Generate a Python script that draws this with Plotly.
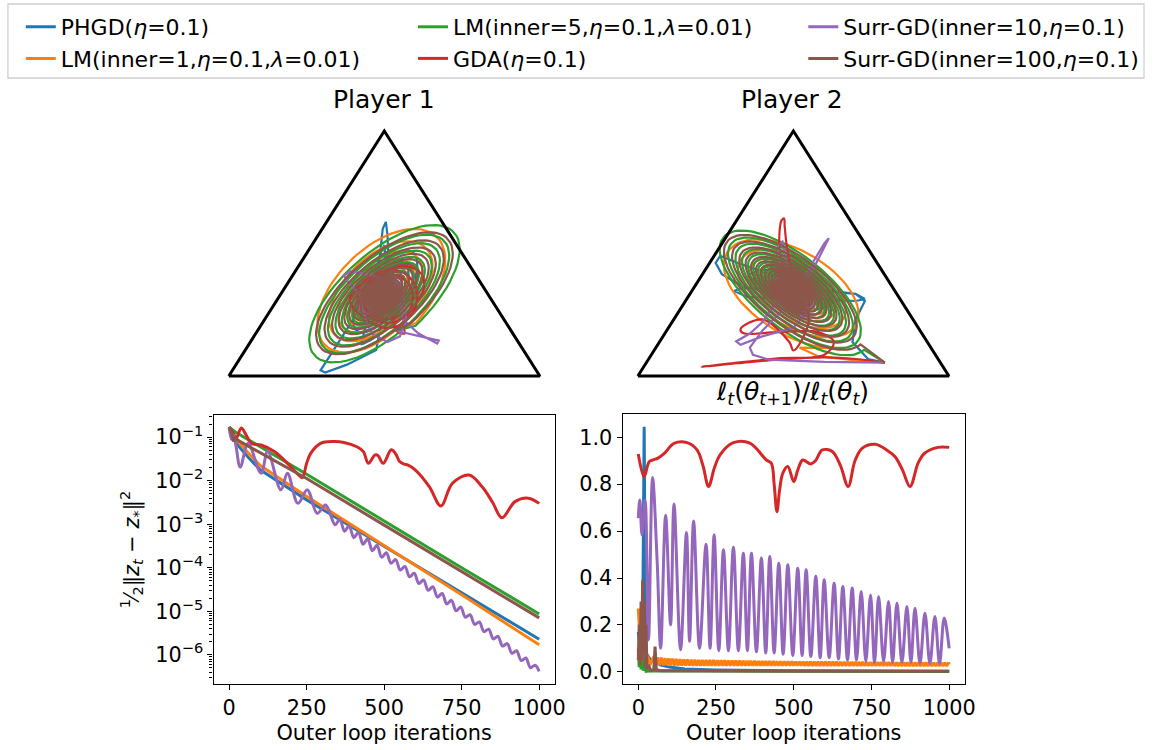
import numpy as np
import plotly.graph_objects as go

W, H = 1156, 750
FONT = "DejaVu Sans"
COLORS = {"PHGD": "#1f77b4", "LM1": "#ff7f0e", "LM5": "#2ca02c",
          "GDA": "#d62728", "S10": "#9467bd", "S100": "#8c564b"}
NAMES = {"PHGD": "PHGD(<i>η</i>=0.1)",
         "LM1": "LM(inner=1,<i>η</i>=0.1,<i>λ</i>=0.01)",
         "LM5": "LM(inner=5,<i>η</i>=0.1,<i>λ</i>=0.01)",
         "GDA": "GDA(<i>η</i>=0.1)",
         "S10": "Surr-GD(inner=10,<i>η</i>=0.1)",
         "S100": "Surr-GD(inner=100,<i>η</i>=0.1)"}
ORDER = ["PHGD", "LM1", "LM5", "GDA", "S10", "S100"]
LEGEND_OF = {"PHGD": "legend", "LM1": "legend", "LM5": "legend2",
             "GDA": "legend2", "S10": "legend3", "S100": "legend3"}

# ---------------- simplex (triangle) data, cartesian coords in the 2-simplex ----------------
tri_x = [0.0, 1.0, 0.5, 0.0]
tri_y = [0.0, 0.0, 0.866, 0.0]

# Player 1 : spiral ring sizes (semi-major per turn)
p1_green_rings = [0.335, 0.29, 0.25, 0.215, 0.185, 0.16, 0.138, 0.119, 0.102, 0.088, 0.076, 0.065,
                  0.056, 0.048, 0.041, 0.035, 0.03, 0.025, 0.021, 0.017, 0.014, 0.011, 0.008, 0.006,
                  0.004, 0.002]
p1_brown_rings = [0.30, 0.262, 0.228, 0.198, 0.172, 0.15, 0.13, 0.113, 0.098, 0.085, 0.074, 0.064,
                  0.055, 0.047, 0.04, 0.034, 0.029, 0.024, 0.02, 0.016, 0.013, 0.01, 0.008, 0.006,
                  0.004, 0.002]
p1_orange_rings = [0.29, 0.235, 0.19, 0.155, 0.126, 0.102, 0.083, 0.067, 0.054, 0.044, 0.035,
                   0.028, 0.022, 0.017, 0.013, 0.01, 0.007, 0.005, 0.003]
p1_blue_rings = [0.2, 0.15, 0.11, 0.08, 0.06, 0.045, 0.033, 0.024, 0.017, 0.012, 0.008, 0.005, 0.003]
p1_purple_rings = [0.1, 0.07, 0.048, 0.032, 0.02, 0.012, 0.006, 0.003]

p1_start = (0.537, 0.16)
p1_blue_path_x = [0.537, 0.52, 0.515, 0.51, 0.505, 0.495, 0.485, 0.46, 0.40, 0.33, 0.295, 0.31,
                  0.38, 0.474, 0.50, 0.505, 0.50, 0.49, 0.475, 0.47]
p1_blue_path_y = [0.16, 0.25, 0.38, 0.50, 0.545, 0.52, 0.42, 0.33, 0.20, 0.08, 0.02, 0.012,
                  0.04, 0.092, 0.25, 0.40, 0.463, 0.44, 0.36, 0.30]
p1_purple_path_x = [0.537, 0.62, 0.675, 0.67, 0.61, 0.56, 0.55, 0.52, 0.45, 0.39, 0.37, 0.385,
                    0.42, 0.44, 0.46, 0.51, 0.55, 0.57, 0.56, 0.52]
p1_purple_path_y = [0.16, 0.14, 0.125, 0.115, 0.15, 0.2, 0.26, 0.33, 0.36, 0.37, 0.355, 0.33,
                    0.29, 0.2, 0.15, 0.12, 0.14, 0.2, 0.3, 0.36]
p1_red_path_x = [0.537, 0.565, 0.56, 0.59, 0.625, 0.62, 0.56, 0.47, 0.40, 0.39, 0.43, 0.5, 0.55,
                 0.6, 0.6, 0.55, 0.47, 0.42, 0.42, 0.47, 0.53, 0.58, 0.59, 0.55, 0.48, 0.43,
                 0.44, 0.5, 0.56]
p1_red_path_y = [0.16, 0.15, 0.19, 0.235, 0.30, 0.36, 0.39, 0.35, 0.30, 0.26, 0.21, 0.17, 0.18,
                 0.24, 0.32, 0.37, 0.36, 0.31, 0.25, 0.2, 0.19, 0.23, 0.30, 0.35, 0.35, 0.30,
                 0.24, 0.2, 0.22]

# Player 2
p2_start = (0.794, 0.047)
p2_green_rings = [0.31, 0.275, 0.243, 0.215, 0.19, 0.167, 0.147, 0.129, 0.113, 0.099, 0.086,
                  0.075, 0.065, 0.056, 0.048, 0.041, 0.035, 0.03, 0.025, 0.021, 0.017, 0.014,
                  0.011, 0.008, 0.006, 0.004, 0.002]
p2_brown_rings = [0.29, 0.255, 0.225, 0.198, 0.175, 0.154, 0.135, 0.118, 0.103, 0.09, 0.078,
                  0.068, 0.059, 0.051, 0.044, 0.038, 0.032, 0.027, 0.023, 0.019, 0.016, 0.013,
                  0.01, 0.008, 0.006, 0.004, 0.002]
p2_orange_rings = [0.28, 0.225, 0.18, 0.145, 0.117, 0.094, 0.075, 0.06, 0.048, 0.038, 0.03,
                   0.024, 0.018, 0.014, 0.01, 0.007, 0.004, 0.002]
p2_blue_rings = [0.15, 0.11, 0.08, 0.058, 0.042, 0.03, 0.021, 0.015, 0.01, 0.006, 0.003]
p2_purple_rings = [0.09, 0.06, 0.04, 0.026, 0.016, 0.009, 0.004]

p2_orange_path_x = [0.794, 0.70, 0.58, 0.52]
p2_orange_path_y = [0.047, 0.055, 0.07, 0.10]
p2_blue_path_x = [0.794, 0.74, 0.69, 0.70, 0.73, 0.70, 0.60, 0.45, 0.32, 0.265, 0.25, 0.27, 0.33,
                  0.45, 0.60, 0.70, 0.73, 0.70, 0.60, 0.45, 0.33, 0.31, 0.35, 0.50]
p2_blue_path_y = [0.047, 0.06, 0.12, 0.20, 0.265, 0.29, 0.305, 0.35, 0.40, 0.425, 0.40, 0.36,
                  0.32, 0.29, 0.27, 0.265, 0.272, 0.29, 0.30, 0.31, 0.31, 0.30, 0.28, 0.27]
p2_red_path_x = [0.794, 0.70, 0.603, 0.45, 0.32, 0.205, 0.30, 0.45, 0.60, 0.63, 0.58, 0.45,
                 0.34, 0.33, 0.40, 0.487, 0.50, 0.55, 0.50, 0.48, 0.472, 0.47, 0.462, 0.455,
                 0.46, 0.49, 0.53, 0.55, 0.52, 0.48, 0.46, 0.50, 0.53, 0.50]
p2_red_path_y = [0.047, 0.06, 0.066, 0.058, 0.045, 0.033, 0.045, 0.062, 0.075, 0.12, 0.155,
                 0.155, 0.151, 0.165, 0.2, 0.12, 0.09, 0.2, 0.35, 0.45, 0.53, 0.557, 0.55, 0.50,
                 0.40, 0.30, 0.22, 0.25, 0.33, 0.35, 0.30, 0.26, 0.29, 0.32]
p2_purple_path_x = [0.794, 0.60, 0.42, 0.37, 0.36, 0.40, 0.48, 0.56, 0.614, 0.60, 0.54, 0.47,
                    0.43, 0.40, 0.36, 0.316, 0.33, 0.40, 0.50, 0.54, 0.52, 0.48, 0.465, 0.45,
                    0.46, 0.50]
p2_purple_path_y = [0.047, 0.05, 0.058, 0.075, 0.10, 0.16, 0.25, 0.37, 0.487, 0.47, 0.36, 0.28,
                    0.24, 0.19, 0.15, 0.122, 0.11, 0.14, 0.17, 0.22, 0.30, 0.40, 0.475, 0.46,
                    0.38, 0.30]

# ---------------- distance plot (log10 of 1/2||z_t - z*||^2) ----------------
phgd_dist_x = [0, 15, 30, 60, 100, 250, 500, 750, 1000]
phgd_dist_log10 = [-0.77, -1.0, -1.2, -1.45, -1.75, -2.44, -3.5, -4.57, -5.64]
lm1_dist_x = [0, 15, 30, 60, 100, 250, 500, 750, 1000]
lm1_dist_log10 = [-0.77, -0.95, -1.1, -1.35, -1.65, -2.36, -3.48, -4.62, -5.77]
lm5_dist_x = [0, 20, 250, 500, 750, 1000]
lm5_dist_log10 = [-0.77, -0.88, -1.85, -2.93, -4.0, -5.06]
gda_dist_x = [0, 12, 23, 39, 55, 71, 103, 146, 188, 225, 236, 250, 263, 295, 337, 370, 412, 433,
              449, 470, 480, 497, 523, 537, 550, 565, 577, 600, 646, 683, 720, 774, 816, 850,
              880, 922, 965, 1000]
gda_dist_log10 = [-0.77, -0.9, -1.02, -0.79, -0.95, -1.14, -1.18, -1.33, -1.6, -1.87, -1.93,
                  -1.6, -1.37, -1.14, -1.1, -1.12, -1.22, -1.33, -1.6, -1.41, -1.42, -1.6, -1.29,
                  -1.38, -1.56, -1.62, -1.64, -1.75, -2.14, -2.58, -2.06, -1.87, -2.14, -2.5,
                  -2.85, -2.48, -2.4, -2.52]
s10_dist_x = [0, 8, 14, 22, 36, 61, 103, 124, 167, 188, 222, 252, 284, 311, 342, 357, 372, 387,
              402, 417, 432, 447, 462, 477, 492, 507, 522, 537, 552, 567, 582, 597, 612, 627,
              642, 657, 672, 687, 702, 717, 732, 747, 762, 777, 792, 807, 822, 837, 852, 867,
              882, 897, 912, 927, 942, 957, 972, 987, 1000]
s10_dist_log10 = [-0.77, -1.05, -0.95, -1.2, -1.69, -1.14, -1.83, -1.33, -2.21, -1.83, -2.52,
                  -2.21, -2.75, -2.56, -3.01, -2.885, -3.16, -3.035, -3.31, -3.185, -3.46,
                  -3.335, -3.61, -3.485, -3.76, -3.656, -3.894, -3.812, -4.05, -3.968, -4.206,
                  -4.124, -4.362, -4.28, -4.518, -4.436, -4.674, -4.592, -4.83, -4.748, -4.986,
                  -4.904, -5.136, -5.079, -5.302, -5.245, -5.468, -5.41, -5.633, -5.576, -5.799,
                  -5.742, -5.964, -5.907, -6.13, -6.073, -6.296, -6.238, -6.38]
s100_dist_x = [0, 8, 14, 20, 30, 250, 500, 750, 1000]
s100_dist_log10 = [-0.77, -0.9, -1.1, -1.02, -1.08, -1.95, -3.02, -4.08, -5.15]

# ---------------- loss ratio plot ----------------
phgd_ratio_x = [0, 5, 10, 14, 17, 19, 21, 24, 30, 40, 55, 70, 100, 150, 250, 500, 1000]
phgd_ratio_y = [0.17, 0.12, 0.05, 0.15, 0.6, 1.045, 0.6, 0.08, 0.07, 0.05, 0.045, 0.03, 0.02,
                0.012, 0.008, 0.004, 0.002]
lm1_ratio_head_x = [0, 3, 6, 9, 12, 15, 20, 25, 30, 38]
lm1_ratio_head_y = [0.27, 0.2, 0.27, 0.05, 0.25, 0.02, 0.1, 0.03, 0.07, 0.03]
lm1_ratio_peaks = [0.066, 0.062, 0.060, 0.058, 0.057, 0.056, 0.055, 0.054, 0.053, 0.053,
                   0.052, 0.052, 0.051, 0.051, 0.050, 0.050, 0.050, 0.049, 0.049, 0.049,
                   0.048, 0.048, 0.048, 0.048, 0.047, 0.047, 0.047, 0.047, 0.046, 0.046,
                   0.046, 0.046, 0.046, 0.045, 0.045, 0.045, 0.045, 0.045, 0.044, 0.044,
                   0.044, 0.044, 0.044, 0.044, 0.043, 0.043, 0.043, 0.043, 0.043, 0.043,
                   0.042, 0.042, 0.042, 0.042, 0.042, 0.042, 0.042, 0.041, 0.041, 0.041,
                   0.041, 0.041, 0.041, 0.041, 0.041, 0.040, 0.040, 0.040, 0.040, 0.040,
                   0.040, 0.040, 0.040, 0.040, 0.040, 0.039, 0.039, 0.039, 0.039, 0.039]
lm1_ratio_troughs = [0.028, 0.028, 0.028, 0.028, 0.027, 0.027, 0.027, 0.027, 0.027, 0.027,
                     0.026, 0.026, 0.026, 0.026, 0.026, 0.026, 0.026, 0.026, 0.026, 0.026,
                     0.026, 0.026, 0.026, 0.026, 0.026, 0.026, 0.026, 0.026, 0.026, 0.026,
                     0.026, 0.026, 0.026, 0.026, 0.026, 0.026, 0.026, 0.026, 0.026, 0.026,
                     0.025, 0.025, 0.025, 0.025, 0.025, 0.025, 0.025, 0.025, 0.025, 0.025,
                     0.025, 0.025, 0.025, 0.025, 0.025, 0.025, 0.025, 0.025, 0.025, 0.025,
                     0.025, 0.025, 0.025, 0.025, 0.025, 0.025, 0.025, 0.025, 0.025, 0.025,
                     0.025, 0.025, 0.025, 0.025, 0.025, 0.025, 0.025, 0.025, 0.025]
lm1_ratio_osc_start, lm1_ratio_osc_step = 50, 6
lm1_ratio_end = (1000, 0.033)
lm5_ratio_x = [0, 3, 6, 9, 12, 16, 20, 25, 40, 1000]
lm5_ratio_y = [0.1, 0.02, 0.12, 0.01, 0.06, 0.005, 0.03, 0.002, 0.004, 0.001]
gda_ratio_x = [0, 19, 35, 50, 62, 83, 115, 157, 189, 208, 226, 245, 263, 306, 359, 412, 428, 437,
               446, 455, 465, 481, 500, 513, 529, 555, 570, 592, 624, 650, 675, 697, 720, 762,
               800, 826, 850, 874, 900, 921, 964, 1000]
gda_ratio_y = [0.929, 0.832, 0.896, 0.905, 0.91, 0.93, 0.974, 0.977, 0.946, 0.88, 0.79, 0.87,
               0.925, 0.977, 0.975, 0.903, 0.889, 0.8, 0.683, 0.78, 0.847, 0.875, 0.811, 0.86,
               0.903, 0.886, 0.9, 0.946, 0.939, 0.88, 0.79, 0.9, 0.953, 0.97, 0.945, 0.917,
               0.86, 0.79, 0.89, 0.932, 0.957, 0.957]
s10_ratio_x = [0, 5, 12, 22, 33, 46, 61, 72, 88, 104, 115, 136, 155, 165, 178, 197, 218, 231,
               244, 259, 274, 290, 306, 322, 338, 351, 364, 380, 396, 410, 423, 437, 452, 466,
               481, 497, 513, 527, 540, 555, 571, 585, 598, 614, 630, 644, 658, 673, 688, 702,
               717, 732, 747, 760, 773, 789, 805, 818, 832, 848, 864, 877, 890, 906, 922, 938,
               954, 969, 984, 1000]
s10_ratio_y = [0.655, 0.733, 0.584, 0.733, 0.136, 0.828, 0.463, 0.1, 0.668, 0.2, 0.716, 0.094,
               0.594, 0.13, 0.643, 0.1, 0.544, 0.1, 0.584, 0.09, 0.52, 0.09, 0.531, 0.09, 0.506,
               0.09, 0.506, 0.085, 0.485, 0.08, 0.492, 0.08, 0.463, 0.075, 0.456, 0.07, 0.442,
               0.07, 0.435, 0.065, 0.407, 0.06, 0.392, 0.06, 0.378, 0.055, 0.364, 0.05, 0.357,
               0.05, 0.342, 0.045, 0.328, 0.04, 0.321, 0.045, 0.30, 0.04, 0.293, 0.04, 0.278,
               0.04, 0.271, 0.035, 0.25, 0.035, 0.236, 0.035, 0.229, 0.1]
s100_ratio_x = [0, 3, 6, 9, 11, 14, 16, 19, 22, 25, 28, 33, 40, 50, 54, 58, 70, 1000]
s100_ratio_y = [0.05, 0.2, 0.03, 0.3, 0.05, 0.39, 0.08, 0.3, 0.02, 0.2, 0.01, 0.03, 0.005, 0.01,
                0.108, 0.01, 0.004, 0.002]

# x/y tick labels
dist_tick_exps = [-6, -5, -4, -3, -2, -1]
iter_ticks = [0, 250, 500, 750, 1000]
ratio_ticks = [0.0, 0.2, 0.4, 0.6, 0.8, 1.0]


def spiral(center, angle_deg, ratio, rings, phase_deg, direction=1, steps=72):
    th = np.radians(angle_deg)
    e1 = np.array([np.cos(th), np.sin(th)])
    e2 = np.array([-np.sin(th), np.cos(th)])
    xs, ys = [], []
    for k in range(len(rings) - 1):
        for j in range(steps):
            t = j / steps
            phi = np.radians(phase_deg) + direction * 2 * np.pi * (k + t)
            a = rings[k] + (rings[k + 1] - rings[k]) * t
            p = np.array(center) + a * np.cos(phi) * e1 + ratio * a * np.sin(phi) * e2
            xs.append(p[0]); ys.append(p[1])
    xs.append(center[0]); ys.append(center[1])
    return xs, ys


fig = go.Figure()

def add_line(x, y, key, xa, ya, width, shape="linear", legend=False):
    fig.add_trace(go.Scatter(
        x=x, y=y, mode="lines", name=NAMES[key], xaxis=xa, yaxis=ya,
        line=dict(color=COLORS[key], width=width, shape=shape),
        showlegend=legend, legend=LEGEND_OF[key], legendgroup=key,
        hoverinfo="skip"))

# ---- triangles ----
TRI_W = 2.2
# Player 1
bx, by = spiral((0.495, 0.288), 60, 0.4, p1_blue_rings, 200)
add_line(p1_blue_path_x + bx, p1_blue_path_y + by, "PHGD", "x", "y", TRI_W)
ox, oy = spiral((0.48, 0.29), 50, 0.55, p1_orange_rings, -90)
add_line([p1_start[0]] + ox, [p1_start[1]] + oy, "LM1", "x", "y", TRI_W)
gx, gy = spiral((0.492, 0.282), 46, 0.45, p1_green_rings, -90)
add_line([p1_start[0]] + gx, [p1_start[1]] + gy, "LM5", "x", "y", TRI_W)
add_line(p1_red_path_x, p1_red_path_y, "GDA", "x", "y", TRI_W, "spline")
px_, py_ = spiral((0.495, 0.29), 45, 0.45, p1_purple_rings, 90)
add_line(p1_purple_path_x + px_, p1_purple_path_y + py_, "S10", "x", "y", TRI_W)
nx, ny = spiral((0.493, 0.285), 45, 0.45, p1_brown_rings, -90)
add_line([p1_start[0]] + nx, [p1_start[1]] + ny, "S100", "x", "y", TRI_W)

# Player 2
bx, by = spiral((0.497, 0.3), -20, 0.42, p2_blue_rings, 180, -1)
add_line(p2_blue_path_x + bx, p2_blue_path_y + by, "PHGD", "x2", "y2", TRI_W)
ox, oy = spiral((0.505, 0.3), -35, 0.55, p2_orange_rings, -30, -1)
add_line(p2_orange_path_x + ox, p2_orange_path_y + oy, "LM1", "x2", "y2", TRI_W)
gx, gy = spiral((0.497, 0.3), -42, 0.42, p2_green_rings, 0, -1)
add_line([p2_start[0]] + gx, [p2_start[1]] + gy, "LM5", "x2", "y2", TRI_W)
add_line(p2_red_path_x, p2_red_path_y, "GDA", "x2", "y2", TRI_W, "spline")
px_, py_ = spiral((0.497, 0.302), -40, 0.45, p2_purple_rings, 90, -1)
add_line(p2_purple_path_x + px_, p2_purple_path_y + py_, "S10", "x2", "y2", TRI_W)
nx, ny = spiral((0.497, 0.302), -41, 0.42, p2_brown_rings, 0, -1)
add_line([p2_start[0]] + nx, [p2_start[1]] + ny, "S100", "x2", "y2", TRI_W)

for xa, ya in (("x", "y"), ("x2", "y2")):
    fig.add_trace(go.Scatter(x=tri_x, y=tri_y, mode="lines", xaxis=xa, yaxis=ya,
                             line=dict(color="black", width=3), showlegend=False,
                             hoverinfo="skip"))

# ---- distance plot ----
LW = 3
dist = {"PHGD": (phgd_dist_x, phgd_dist_log10), "LM1": (lm1_dist_x, lm1_dist_log10),
        "LM5": (lm5_dist_x, lm5_dist_log10), "GDA": (gda_dist_x, gda_dist_log10),
        "S10": (s10_dist_x, s10_dist_log10), "S100": (s100_dist_x, s100_dist_log10)}
for key in ORDER:
    x, lg = dist[key]
    add_line(x, list(10.0 ** np.array(lg)), key, "x3", "y3", LW,
             "spline" if key in ("GDA", "S10") else "linear", legend=True)

# ---- ratio plot ----
lm1_x = list(lm1_ratio_head_x)
lm1_y = list(lm1_ratio_head_y)
for k in range(len(lm1_ratio_peaks)):
    lm1_x.append(lm1_ratio_osc_start + 2 * k * lm1_ratio_osc_step)
    lm1_y.append(lm1_ratio_peaks[k])
    if k < len(lm1_ratio_troughs):
        lm1_x.append(lm1_ratio_osc_start + (2 * k + 1) * lm1_ratio_osc_step)
        lm1_y.append(lm1_ratio_troughs[k])
lm1_x.append(lm1_ratio_end[0]); lm1_y.append(lm1_ratio_end[1])

ratio = {"PHGD": (phgd_ratio_x, phgd_ratio_y), "LM1": (lm1_x, lm1_y),
         "LM5": (lm5_ratio_x, lm5_ratio_y), "GDA": (gda_ratio_x, gda_ratio_y),
         "S10": (s10_ratio_x, s10_ratio_y), "S100": (s100_ratio_x, s100_ratio_y)}
for key in ORDER:
    x, y = ratio[key]
    add_line(x, y, key, "x4", "y4", LW,
             "spline" if key in ("GDA", "S10") else "linear")

# ---------------- layout ----------------
def px_x(p):
    return p / W

def px_y(p):
    return 1 - p / H

tick_font = dict(family=FONT, size=20.8, color="black")
hidden = dict(visible=False, showgrid=False, zeroline=False)

common_ax = dict(showline=True, mirror=True, linecolor="black", linewidth=1.4,
                 ticks="outside", ticklen=5, tickwidth=1.2, tickcolor="black",
                 showgrid=False, zeroline=False, tickfont=tick_font)

minor_vals = [m * 10.0 ** e for e in range(-7, 0) for m in range(2, 10)]

fig.update_layout(
    width=W, height=H, margin=dict(l=0, r=0, t=0, b=0),
    paper_bgcolor="white", plot_bgcolor="white",
    font=dict(family=FONT, size=20.8, color="black"),
    xaxis=dict(domain=[px_x(215.3), px_x(560.7)], range=[-0.05, 1.05], **hidden),
    yaxis=dict(domain=[px_y(390.1), px_y(116.9)], range=[-0.05, 0.916], **hidden),
    xaxis2=dict(domain=[px_x(628.3), px_x(973.7)], range=[-0.05, 1.05], **hidden),
    yaxis2=dict(domain=[px_y(390.1), px_y(116.9)], range=[-0.05, 0.916], **hidden),
    xaxis3=dict(domain=[px_x(215.7), px_x(560.0)], range=[-50, 1050], anchor="y3",
                tickvals=iter_ticks, ticktext=[str(t) for t in iter_ticks],
                title=dict(text="Outer loop iterations", font=tick_font, standoff=6),
                **common_ax),
    yaxis3=dict(domain=[px_y(684), px_y(415)], type="log", range=[-6.67, -0.49], anchor="x3",
                tickvals=[10.0 ** e for e in dist_tick_exps],
                ticktext=["10<sup>−%d</sup>" % (-e) for e in dist_tick_exps],
                minor=dict(tickvals=minor_vals, ticks="outside", ticklen=3, tickcolor="black",
                           tickwidth=1),
                title=dict(text="<sup>1</sup>⁄<sub>2</sub>‖<i>z</i><sub><i>t</i></sub> − <i>z</i><sub>*</sub>‖<sup>2</sup>",
                           font=tick_font, standoff=10),
                **common_ax),
    xaxis4=dict(domain=[px_x(628.7), px_x(974.0)], range=[-50, 1050], anchor="y4",
                tickvals=iter_ticks, ticktext=[str(t) for t in iter_ticks],
                title=dict(text="Outer loop iterations", font=tick_font, standoff=6),
                **common_ax),
    yaxis4=dict(domain=[px_y(684), px_y(414.3)], range=[-0.052, 1.098], anchor="x4",
                tickvals=ratio_ticks, ticktext=["%.1f" % t for t in ratio_ticks],
                **common_ax),
    annotations=[
        dict(text="Player 1", x=px_x(388), y=px_y(100), xref="paper", yref="paper",
             showarrow=False, font=dict(family=FONT, size=25, color="black"),
             xanchor="center", yanchor="middle"),
        dict(text="Player 2", x=px_x(800), y=px_y(100), xref="paper", yref="paper",
             showarrow=False, font=dict(family=FONT, size=25, color="black"),
             xanchor="center", yanchor="middle"),
        dict(text="<i>ℓ</i><sub><i>t</i></sub>(<i>θ</i><sub><i>t</i>+1</sub>)/<i>ℓ</i><sub><i>t</i></sub>(<i>θ</i><sub><i>t</i></sub>)",
             x=px_x(800), y=px_y(393), xref="paper", yref="paper", showarrow=False,
             font=dict(family=FONT, size=25, color="black"), xanchor="center",
             yanchor="middle"),
    ],
    shapes=[dict(type="rect", xref="paper", yref="paper", x0=px_x(8), x1=px_x(1155),
                 y0=px_y(78), y1=px_y(4), line=dict(color="#d0d0d0", width=1.3),
                 fillcolor="rgba(0,0,0,0)", layer="below")],
    showlegend=True,
)

leg_common = dict(orientation="v", yanchor="top", xanchor="left", bgcolor="rgba(0,0,0,0)",
                  borderwidth=0, font=dict(family=FONT, size=22, color="black"),
                  tracegroupgap=0, itemwidth=30)
fig.update_layout(
    legend=dict(x=px_x(21), y=px_y(6), **leg_common),
    legend2=dict(x=px_x(417), y=px_y(6), **leg_common),
    legend3=dict(x=px_x(811), y=px_y(6), **leg_common),
)

fig.write_html("out.html",
               config={"displayModeBar": False},
               post_script="document.body.style.margin='0';"
                           "document.body.style.overflow='hidden';")
